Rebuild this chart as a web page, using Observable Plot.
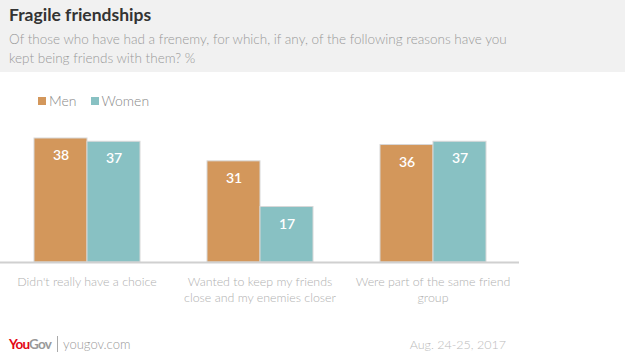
<!DOCTYPE html>
<html>
<head>
<meta charset="utf-8">
<script src="https://cdn.jsdelivr.net/npm/d3@7"></script>
<script src="https://cdn.jsdelivr.net/npm/@observablehq/plot@0.6"></script>
<style>
  html, body { margin: 0; padding: 0; background: #fff; }
  body { width: 625px; height: 361px; position: relative; overflow: hidden; font-family: Lato, "Open Sans", sans-serif; }
  #header { position: absolute; left: 0; top: 0; width: 625px; height: 72px; background: #f1f1f1; }
  #title { position: absolute; left: 9px; top: 4px; font-size: 17.5px; font-weight: 700; color: #333; }
  #subtitle { position: absolute; left: 9px; top: 30px; font-size: 13.5px; line-height: 19px; font-weight: 300; color: #999; white-space: nowrap; }
  #legend { position: absolute; left: 38px; top: 92px; font-size: 14px; font-weight: 300; color: #888; display: flex; align-items: center; }
  #legend .sw { display: inline-block; width: 8px; height: 8px; margin-right: 3px; }
  #legend .item { display: flex; align-items: center; margin-right: 14px; }
  #chart { position: absolute; left: 0; top: 120px; }
  #footer-left { position: absolute; left: 9px; top: 336px; display: flex; align-items: center; font-size: 13px; }
  #logo { font-weight: 700; letter-spacing: -0.8px; font-size: 13.5px; }
  #logo .you { color: #e30613; }
  #logo .gov { color: #999; }
  #divider { display: inline-block; width: 1px; height: 16px; background: #aaa; margin: 0 5px 0 6px; }
  #site { color: #999; font-weight: 300; }
  #date { position: absolute; right: 119px; top: 337px; font-size: 12.5px; color: #bbb; font-weight: 300; }
</style>
</head>
<body>
<div id="header">
  <div id="title">Fragile friendships</div>
  <div id="subtitle">Of those who have had a frenemy, for which, if any, of the following reasons have you<br>kept being friends with them? %</div>
</div>
<div id="legend"></div>
<div id="chart"></div>
<div id="footer-left"><span id="logo"><span class="you">You</span><span class="gov">Gov</span></span><span id="divider"></span><span id="site">yougov.com</span></div>
<div id="date">Aug. 24-25, 2017</div>
<script>
const categories = ["Didn't really have a choice", "Wanted to keep my friends close and my enemies closer", "Were part of the same friend group"];
const tickLabels = ["Didn't really have a choice", "Wanted to keep my friends\nclose and my enemies closer", "Were part of the same friend\ngroup"];
const series = ["Men", "Women"];
const menValues = [38, 31, 36];
const womenValues = [37, 17, 37];
const colors = ["#d3975b", "#88c1c3"];

const data = [];
categories.forEach((c, i) => {
  data.push({category: c, group: "Men", value: menValues[i]});
  data.push({category: c, group: "Women", value: womenValues[i]});
});

// legend
const legend = document.getElementById("legend");
series.forEach((s, i) => {
  const item = document.createElement("span");
  item.className = "item";
  item.innerHTML = `<span class="sw" style="background:${colors[i]}"></span>${s}`;
  legend.appendChild(item);
});

const labelMap = new Map(categories.map((c, i) => [c, tickLabels[i]]));

const chart = Plot.plot({
  width: 625,
  height: 190,
  marginLeft: 0,
  marginRight: 106,
  marginTop: 18,
  marginBottom: 48,
  style: {fontFamily: "Lato, 'Open Sans', sans-serif", background: "transparent"},
  fx: {domain: categories, padding: 0, label: null},
  x: {domain: series, paddingInner: 0, paddingOuter: 0.617, axis: null},
  y: {domain: [0, 38], axis: null},
  color: {domain: series, range: colors},
  marks: [
    Plot.axisFx({anchor: "bottom", label: null, tickSize: 0, tickPadding: 12, tickFormat: d => labelMap.get(d),
      lineHeight: 1.3, fontSize: 12.4, fontWeight: 300, fill: "#b0b0b0"}),
    Plot.barY(data, {fx: "category", x: "group", y: "value", fill: "group", stroke: "#d8d8d8", strokeWidth: 1}),
    Plot.text(data, {fx: "category", x: "group", y: "value", text: d => String(d.value), dy: 17, fill: "white", fontSize: 14, fontWeight: 600}),
    Plot.ruleY([0], {stroke: "#d0d0d0", strokeWidth: 2})
  ]
});
document.getElementById("chart").appendChild(chart);
</script>
</body>
</html>
